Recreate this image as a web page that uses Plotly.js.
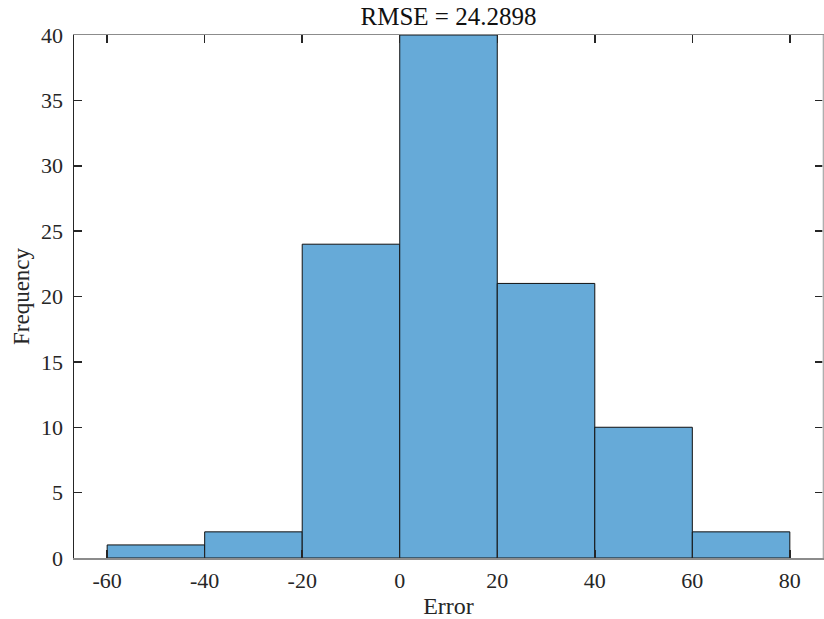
<!DOCTYPE html>
<html>
<head>
<meta charset="utf-8">
<script src="https://cdn.plot.ly/plotly-3.0.1.min.js"></script>
<style>html,body{margin:0;padding:0;background:#fff;}#chart{width:824px;height:619px;}</style>
</head>
<body>
<div id="chart"></div>
<script>
const binEdges = [-60, -40, -20, 0, 20, 40, 60, 80];
const counts = [1, 2, 24, 40, 21, 10, 2];
const xTicks = [-60, -40, -20, 0, 20, 40, 60, 80];
const yTicks = [0, 5, 10, 15, 20, 25, 30, 35, 40];
const titleText = 'RMSE = 24.2898';

const centers = counts.map((c, i) => (binEdges[i] + binEdges[i + 1]) / 2);
const widths = counts.map((c, i) => binEdges[i + 1] - binEdges[i]);

const fam = 'Liberation Serif, Times New Roman, serif';
const tickFont = {family: fam, size: 22, color: '#262626'};

Plotly.newPlot('chart', [{
  type: 'bar',
  x: centers,
  y: counts,
  width: widths,
  marker: {color: '#66aad8', line: {color: '#111111', width: 1}},
  hoverinfo: 'x+y'
}], {
  width: 824, height: 619,
  margin: {l: 74, r: 1, t: 35, b: 61},
  paper_bgcolor: '#ffffff', plot_bgcolor: '#ffffff',
  font: tickFont,
  showlegend: false,
  bargap: 0,
  title: {text: titleText, font: {family: fam, size: 25, color: '#111'}, xref: 'paper', x: 0.5, xanchor: 'center', yref: 'container', y: 0.988, yanchor: 'top'},
  xaxis: {
    range: [-66.8, 86.8], tickvals: xTicks, ticktext: xTicks.map(String),
    showgrid: false, zeroline: false, showline: true, linecolor: '#8c8c8c', linewidth: 1.5,
    mirror: 'ticks', ticks: 'inside', ticklen: 8, tickwidth: 1.5, tickcolor: '#262626',
    tickfont: tickFont, ticklabelstandoff: 2,
    title: {text: 'Error', font: {family: fam, size: 24, color: '#262626'}, standoff: 5}
  },
  yaxis: {
    range: [0, 40], tickvals: yTicks, ticktext: yTicks.map(String),
    showgrid: false, zeroline: false, showline: true, linecolor: '#262626', linewidth: 1.5,
    mirror: 'ticks', ticks: 'inside', ticklen: 8, tickwidth: 1.5, tickcolor: '#262626',
    tickfont: tickFont, ticklabelstandoff: 5,
    title: {text: 'Frequency', font: {family: fam, size: 23, color: '#262626'}, standoff: 5}
  },
  shapes: [{type: 'line', xref: 'paper', yref: 'paper', x0: 1, x1: 1, y0: 0, y1: 1, line: {color: '#dddddd', width: 1.5}, layer: 'above'}]
}, {displayModeBar: false, staticPlot: true});
</script>
</body>
</html>
